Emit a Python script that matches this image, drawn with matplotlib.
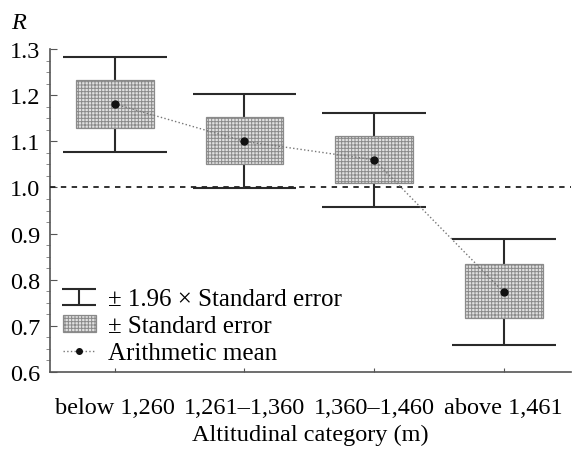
import numpy as np
import matplotlib
matplotlib.use("Agg")
from matplotlib import pyplot as plt
from matplotlib.path import Path
from matplotlib.lines import Line2D
from matplotlib.patches import Patch
from matplotlib.ticker import MultipleLocator

categories = ["below 1,260", "1,261\u20131,360", "1,360\u20131,460", "above 1,461"]
means = [1.181, 1.100, 1.060, 0.773]
se_low = [1.129, 1.050, 1.010, 0.716]
se_high = [1.233, 1.153, 1.112, 0.833]
ci_low = [1.077, 0.998, 0.957, 0.658]
ci_high = [1.284, 1.203, 1.162, 0.888]

plt.rcParams['font.family'] = ['Liberation Serif', 'DejaVu Serif']
plt.rcParams['hatch.color'] = '#cacaca'
plt.rcParams['hatch.linewidth'] = 0.7

FS = 17.5
fig = plt.figure(figsize=(5.79, 4.52), dpi=100)
ax = fig.add_axes([0.0864, 0.175, 0.9, 0.714])

x = np.arange(len(categories))
means = np.array(means)
se_low = np.array(se_low)
se_high = np.array(se_high)

# whiskers
ax.vlines(x, ci_low, ci_high, color='#2a2a2a', lw=1.5, zorder=2)
ax.hlines(ci_low, x - 0.4, x + 0.4, color='#2a2a2a', lw=1.5, zorder=2)
ax.hlines(ci_high, x - 0.4, x + 0.4, color='#2a2a2a', lw=1.5, zorder=2)

# boxes
ax.bar(x, se_high - se_low, bottom=se_low, width=0.6, facecolor='#e0e0e0',
       edgecolor='#8a8a8a', lw=0.9, hatch='+++++', zorder=3)

ax.axhline(1.0, color='#222222', lw=1.3, ls=(0, (3, 3)), zorder=4)

ax.plot(x, means, ls=':', color='#777777', lw=1.0, marker='o', ms=5,
        mfc='#111111', mec='#111111', zorder=5)

ax.set_xlim(-0.5, 3.52)
ax.set_ylim(0.6, 1.3)
ax.yaxis.set_minor_locator(MultipleLocator(0.025))
ax.set_yticks([0.6, 0.7, 0.8, 0.9, 1.0, 1.1, 1.2, 1.3])
ax.set_yticklabels(["0.6", "0.7", "0.8", "0.9", "1.0", "1.1", "1.2", "1.3"])
ax.set_xticks(x)
ax.set_xticklabels(categories)
ax.tick_params(axis='both', direction='in', labelsize=FS, color='#555555')
ax.tick_params(axis='y', which='major', length=5, pad=7)
ax.tick_params(axis='y', which='minor', length=3, color='#777777')
ax.tick_params(axis='x', length=3, pad=18)
for s in ['top', 'right']:
    ax.spines[s].set_visible(False)
for s in ['left', 'bottom']:
    ax.spines[s].set_color('#555555')
    ax.spines[s].set_linewidth(1.2)

ax.set_xlabel("Altitudinal category (m)", fontsize=FS, labelpad=4)
fig.text(0.032, 0.947, "R", fontsize=FS, style='italic', ha='center', va='center')

ibeam = Path([(-1, 0.47), (1, 0.47), (0, 0.47), (0, -0.47), (-1, -0.47), (1, -0.47)],
             [Path.MOVETO, Path.LINETO, Path.MOVETO, Path.LINETO, Path.MOVETO, Path.LINETO])
h1 = Line2D([], [], ls='none', marker=ibeam, ms=24, mew=1.5, color='#2a2a2a')
h2 = Patch(facecolor='#e0e0e0', edgecolor='#8a8a8a', hatch='+++++', lw=0.9)
h3 = Line2D([], [], ls=':', color='#777777', lw=1.0, marker='o', ms=4,
            mfc='#111111', mec='#111111')
ax.legend([h1, h2, h3], ["\u00b1 1.96 \u00d7 Standard error", "\u00b1 Standard error",
                         "Arithmetic mean"],
          loc='lower left', bbox_to_anchor=(-0.012, -0.035), frameon=False, fontsize=18,
          handlelength=1.35, handletextpad=0.45, labelspacing=0.18, borderpad=0.25,
          numpoints=1)

fig.savefig("out.png", dpi=100)
